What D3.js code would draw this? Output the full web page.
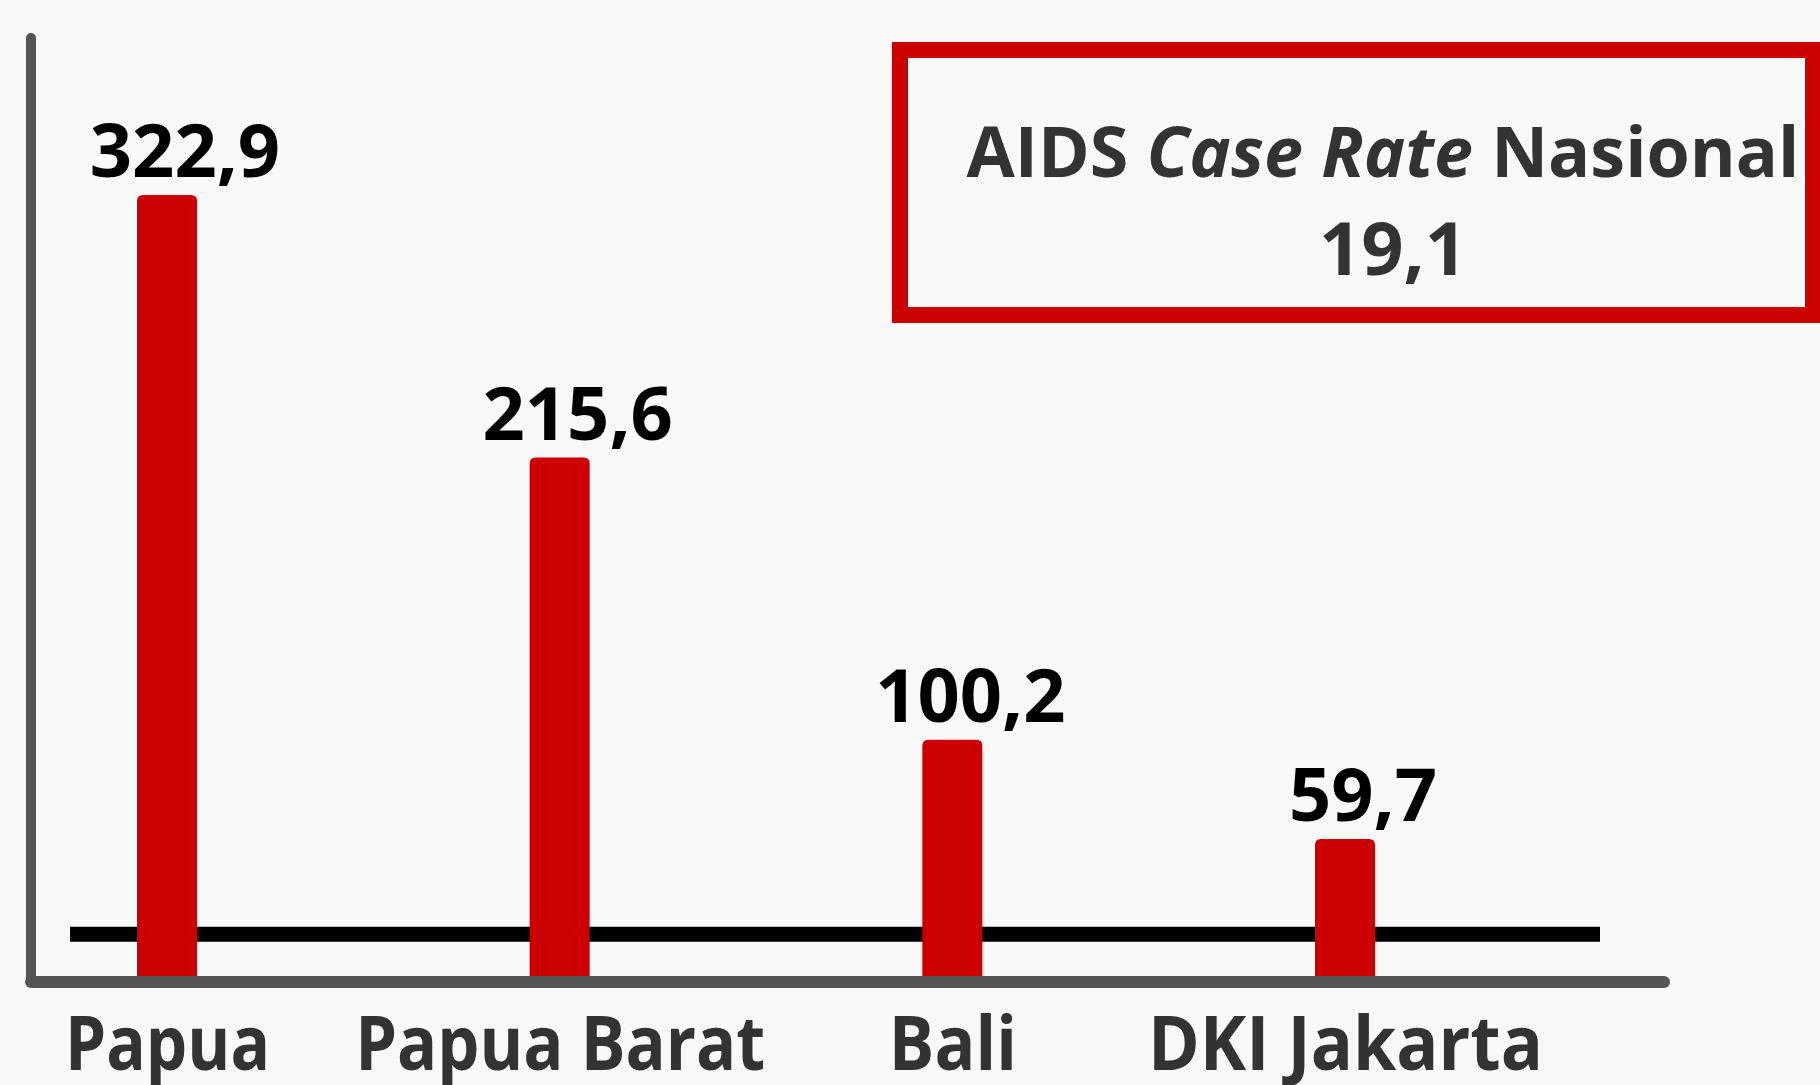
<!DOCTYPE html>
<html>
<head>
<meta charset="utf-8">
<script src="https://cdn.jsdelivr.net/npm/d3@7"></script>
<style>
  html, body { margin: 0; padding: 0; background: #f8f8f8; }
  svg { display: block; }
</style>
</head>
<body>
<svg id="chart" width="1820" height="1085"></svg>
<script>
// ---- data ----
const categories = ["Papua", "Papua Barat", "Bali", "DKI Jakarta"];
const values = [322.9, 215.6, 100.2, 59.7];
const nationalRate = 19.1;
const boxTitleParts = [
  { text: "AIDS ", italic: false },
  { text: "Case Rate", italic: true },
  { text: " Nasional", italic: false }
];

// ---- setup ----
const W = 1820, H = 1085;
const svg = d3.select("#chart");
svg.append("rect").attr("width", W).attr("height", H).attr("fill", "#f8f8f8");

const fmt = d3.formatLocale({ decimal: ",", thousands: ".", grouping: [3], currency: ["", ""] }).format(".1f");

const x = d3.scalePoint().domain(categories).range([167, 1345]);
const y = d3.scaleLinear().domain([0, 322.9]).range([985, 195]);

const barW = 60, r = 6;
const data = categories.map((c, i) => ({ cat: c, value: values[i] }));

// national reference line (behind bars)
svg.append("line")
  .attr("x1", 70).attr("x2", 1600)
  .attr("y1", y(nationalRate) - 4).attr("y2", y(nationalRate) - 4)
  .attr("stroke", "#000").attr("stroke-width", 15);

// bars with rounded top
function barPath(d) {
  const x0 = x(d.cat) - barW / 2, x1 = x(d.cat) + barW / 2;
  const top = y(d.value), bot = y(0);
  return `M${x0},${bot} L${x0},${top + r} Q${x0},${top} ${x0 + r},${top} L${x1 - r},${top} Q${x1},${top} ${x1},${top + r} L${x1},${bot} Z`;
}
svg.selectAll("path.bar").data(data).enter().append("path")
  .attr("class", "bar")
  .attr("d", barPath)
  .attr("fill", "#cc0000");

// value labels
svg.selectAll("text.val").data(data).enter().append("text")
  .attr("class", "val")
  .attr("x", d => x(d.cat) + 18)
  .attr("y", d => y(d.value) - 18)
  .attr("text-anchor", "middle")
  .attr("font-family", "'Open Sans', sans-serif")
  .attr("font-weight", 700)
  .attr("font-size", 74)
  .attr("fill", "#000")
  .text(d => fmt(d.value));

// axes (drawn as thick gray lines)
svg.append("line")
  .attr("x1", 31).attr("x2", 31).attr("y1", 38).attr("y2", 982)
  .attr("stroke", "#555").attr("stroke-width", 10).attr("stroke-linecap", "round");
svg.append("line")
  .attr("x1", 31).attr("x2", 1664).attr("y1", 982).attr("y2", 982)
  .attr("stroke", "#555").attr("stroke-width", 12).attr("stroke-linecap", "round");

// category labels via axis
const xAxis = d3.axisBottom(x).tickSize(0).tickPadding(0);
const gx = svg.append("g").attr("transform", "translate(0,1070)").call(xAxis);
gx.select(".domain").remove();
const labelWidths = { "Papua": 205, "Papua Barat": 410, "Bali": 128, "DKI Jakarta": 395 };
gx.selectAll(".tick text")
  .attr("y", 0).attr("dy", 0)
  .attr("font-family", "'Open Sans', sans-serif")
  .attr("font-weight", 700)
  .attr("font-size", 76)
  .attr("fill", "#333")
  .attr("text-anchor", "middle")
  .attr("textLength", d => labelWidths[d])
  .attr("lengthAdjust", "spacingAndGlyphs");

// national box
svg.append("rect")
  .attr("x", 900).attr("y", 50).attr("width", 913).attr("height", 265)
  .attr("fill", "none").attr("stroke", "#cc0000").attr("stroke-width", 16);

const t1 = svg.append("text")
  .attr("x", 1383).attr("y", 177)
  .attr("text-anchor", "middle")
  .attr("font-family", "'Open Sans', sans-serif")
  .attr("font-weight", 700)
  .attr("font-size", 80)
  .attr("fill", "#333");
boxTitleParts.forEach(p => {
  t1.append("tspan").attr("font-style", p.italic ? "italic" : "normal").text(p.text);
});
const natural = t1.node().getComputedTextLength();
t1.attr("font-size", 80 * 833 / natural);

svg.append("text")
  .attr("x", 1393).attr("y", 275)
  .attr("text-anchor", "middle")
  .attr("font-family", "'Open Sans', sans-serif")
  .attr("font-weight", 700)
  .attr("font-size", 74)
  .attr("fill", "#333")
  .text(fmt(nationalRate));
</script>
</body>
</html>
